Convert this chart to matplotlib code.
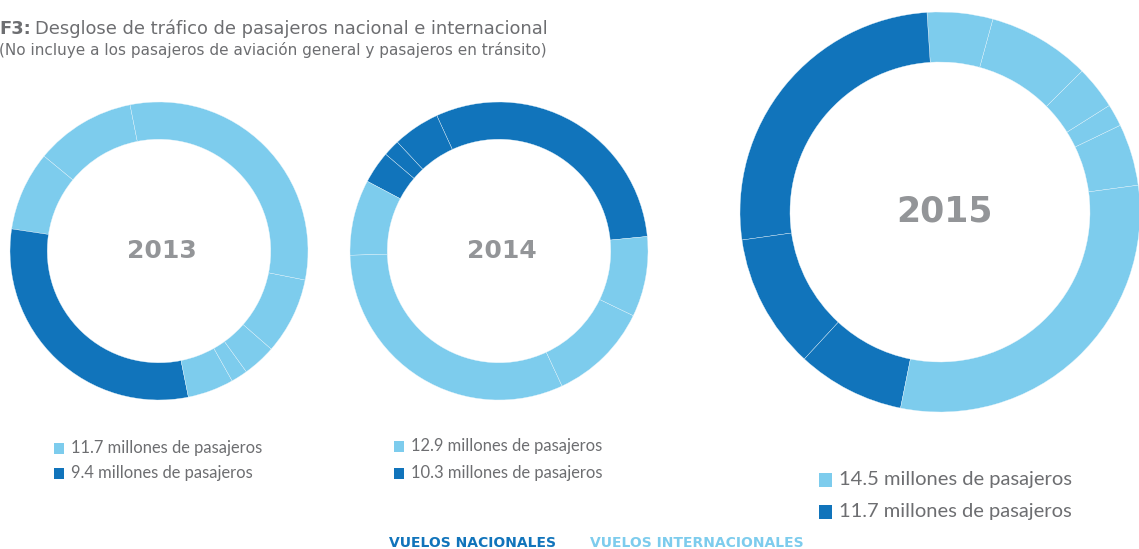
import matplotlib.pyplot as plt
from matplotlib.patches import Rectangle

W, H = 1139, 549

dark = "#1174bb"
light = "#7dcced"
grey_year = "#939598"
grey_text = "#6d6e71"

# segment shares (percent of ring), in counter-clockwise order
years = ["2013", "2014", "2015"]
shares_2013 = [10.9, 8.6, 30.5, 5.0, 1.8, 3.6, 8.3, 31.2]
kinds_2013 = ["i", "i", "n", "i", "i", "i", "i", "i"]
shares_2014 = [30.3, 5.1, 1.8, 3.5, 8.2, 31.5, 10.9, 8.7]
kinds_2014 = ["n", "n", "n", "n", "i", "i", "i", "i"]
shares_2015 = [5.0, 1.8, 3.5, 8.3, 5.3, 26.2, 10.9, 8.7, 30.3]
kinds_2015 = ["i", "i", "i", "i", "i", "n", "n", "n", "i"]

intl_millions = [11.7, 12.9, 14.5]
nat_millions = [9.4, 10.3, 11.7]

fig = plt.figure(figsize=(W / 100, H / 100), dpi=100)
bg = fig.add_axes([0, 0, 1, 1])
bg.set_xlim(0, W)
bg.set_ylim(H, 0)
bg.axis("off")


def donut(cx, cy, r, shares, kinds, start, label, size, hole=0.75):
    ax = fig.add_axes([(cx - r) / W, 1 - (cy + r) / H, 2 * r / W, 2 * r / H])
    colors = [dark if k == "n" else light for k in kinds]
    ax.pie(shares, colors=colors, startangle=start, counterclock=True,
           wedgeprops=dict(width=1 - hole, edgecolor="#eaf6fc", linewidth=0.25))
    ax.set_xlim(-1, 1)
    ax.set_ylim(-1, 1)
    ax.axis("off")
    ax.text(0.02, 0, label, ha="center", va="center", fontsize=size,
            fontweight="bold", color=grey_year, family="DejaVu Sans")


donut(159, 251, 149, shares_2013, kinds_2013, 101.2, years[0], 18)
donut(499, 251, 149, shares_2014, kinds_2014, 5.6, years[1], 18)
donut(940, 212, 200, shares_2015, kinds_2015, 7.7, years[2], 25)

# title
t = bg.text(-1, 29, "F3:", fontsize=12.9, fontweight="bold", color=grey_text,
            va="center", ha="left", family="DejaVu Sans")
fig.canvas.draw()
r = fig.canvas.get_renderer()
x1 = bg.transData.inverted().transform(t.get_window_extent(r))[1][0]
bg.text(x1 + 4, 29, "Desglose de tráfico de pasajeros nacional e internacional",
        fontsize=12.9, color=grey_text, va="center", ha="left", family="DejaVu Sans")
bg.text(-1, 50, "(No incluye a los pasajeros de aviación general y pasajeros en tránsito)",
        fontsize=11, color=grey_text, va="center", ha="left", family="DejaVu Sans")

# legends
legend_pos = [(54, 448, 473, 10, 11.9), (394, 446, 473, 10, 11.9), (819, 480, 512, 13, 14.5)]
for i, (lx, y1, y2, sq, fs) in enumerate(legend_pos):
    for yy, val, col in [(y1, intl_millions[i], light), (y2, nat_millions[i], dark)]:
        bg.add_patch(Rectangle((lx, yy - sq / 2 - 0.5), sq, sq + 1, color=col, lw=0))
        bg.text(lx + sq + 7, yy, f"{val} millones de pasajeros", fontsize=fs,
                color=grey_text, va="center", ha="left", family="Lato")

bg.text(389, 543, "VUELOS NACIONALES", fontsize=10, fontweight="bold", color=dark,
        va="center", ha="left", family="DejaVu Sans")
bg.text(590, 543, "VUELOS INTERNACIONALES", fontsize=10, fontweight="bold", color=light,
        va="center", ha="left", family="DejaVu Sans")

fig.savefig("out.png", dpi=100)
